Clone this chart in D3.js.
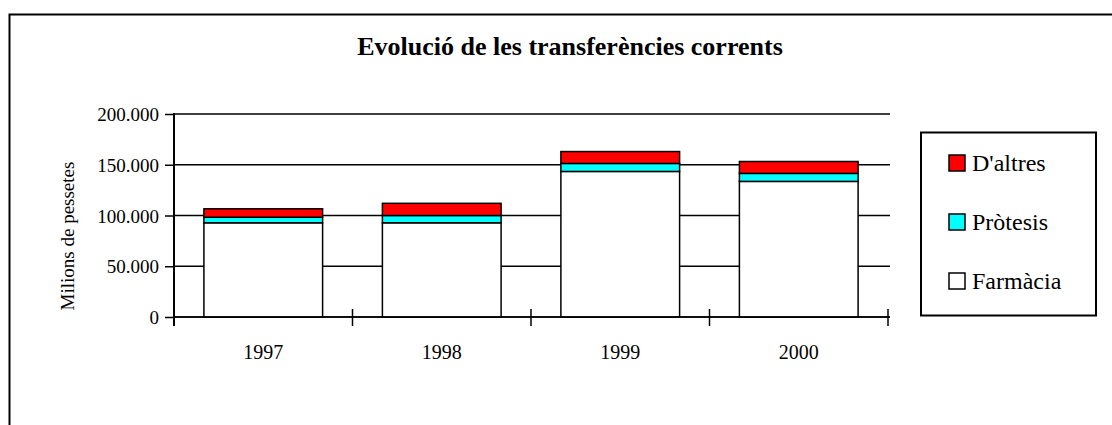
<!DOCTYPE html>
<html>
<head>
<meta charset="utf-8">
<script src="https://cdn.jsdelivr.net/npm/d3@7"></script>
<style>
  body { margin: 0; background: #fff; }
  svg text { font-family: "Liberation Serif", "Times New Roman", serif !important; fill: #000; }
</style>
</head>
<body>
<div id="chart"></div>
<script>
const years = ['1997', '1998', '1999', '2000'];
const farmacia = [92800, 92800, 143400, 133600];
const protesis = [5500, 7200, 7900, 7900];
const altres = [8300, 12000, 11700, 11700];
const yTicks = [0, 50000, 100000, 150000, 200000];
const seriesNames = ['Farmàcia', 'Pròtesis', "D'altres"];
const seriesColors = ['#ffffff', '#00ffff', '#ff0000'];

const width = 1112, height = 425;
const serif = '"Liberation Serif", "Times New Roman", serif';

const svg = d3.select('#chart').append('svg')
  .attr('width', width)
  .attr('height', height);

// outer frame (right and bottom edges fall outside the picture)
svg.append('rect')
  .attr('x', 9.5).attr('y', 14.5)
  .attr('width', 1130).attr('height', 440)
  .attr('fill', 'none').attr('stroke', '#000').attr('stroke-width', 2);

svg.append('text')
  .attr('x', 570).attr('y', 55)
  .attr('text-anchor', 'middle')
  .style('font-family', serif)
  .attr('font-size', 26)
  .attr('font-weight', 'bold')
  .text('Evolució de les transferències corrents');

const x = d3.scaleBand().domain(years).range([174, 888]).paddingInner(0.335).paddingOuter(0.1675);
const y = d3.scaleLinear().domain([0, 200000]).range([317, 114]);

// gridlines
svg.append('g').selectAll('line')
  .data(yTicks)
  .enter().append('line')
  .attr('x1', 174).attr('x2', 890)
  .attr('y1', d => y(d)).attr('y2', d => y(d))
  .attr('stroke', '#000').attr('stroke-width', 1.5);

// stacked bars
const table = years.map((yr, i) => ({year: yr, 'Farmàcia': farmacia[i], 'Pròtesis': protesis[i], "D'altres": altres[i]}));
const stack = d3.stack().keys(seriesNames)(table);

svg.append('g').selectAll('g')
  .data(stack)
  .enter().append('g')
  .attr('fill', (d, i) => seriesColors[i])
  .selectAll('rect')
  .data(d => d)
  .enter().append('rect')
  .attr('x', d => x(d.data.year))
  .attr('y', d => y(d[1]))
  .attr('width', x.bandwidth())
  .attr('height', d => y(d[0]) - y(d[1]))
  .attr('stroke', '#000')
  .attr('stroke-width', 1.5);

// y axis
const yAxis = svg.append('g')
  .attr('transform', 'translate(174,0)')
  .call(d3.axisLeft(y).tickValues(yTicks).tickSize(9).tickPadding(6)
    .tickFormat(d => d3.format(',')(d).replace(/,/g, '.')));
yAxis.attr('font-family', null);
yAxis.select('.domain').remove();
yAxis.selectAll('line').attr('stroke-width', 1.5);
yAxis.selectAll('text')
  .style('font-family', serif)
  .attr('font-size', 19)
  .attr('dy', '0.35em');
svg.append('line')
  .attr('x1', 174).attr('x2', 174).attr('y1', 113).attr('y2', 326)
  .attr('stroke', '#000').attr('stroke-width', 2);

// x axis
const bounds = years.map(d => x(d) - x.step() * x.paddingInner() / 2).concat([888]);
svg.append('g').selectAll('line')
  .data(bounds)
  .enter().append('line')
  .attr('x1', d => d).attr('x2', d => d)
  .attr('y1', 309).attr('y2', 326)
  .attr('stroke', '#000').attr('stroke-width', 1.5);
svg.append('line')
  .attr('x1', 174).attr('x2', 890).attr('y1', 317).attr('y2', 317)
  .attr('stroke', '#000').attr('stroke-width', 1.5);
svg.append('g').selectAll('text')
  .data(years)
  .enter().append('text')
  .attr('x', d => x(d) + x.bandwidth() / 2)
  .attr('y', 359)
  .attr('text-anchor', 'middle')
  .style('font-family', serif)
  .attr('font-size', 20)
  .text(d => d);

svg.append('text')
  .attr('transform', 'translate(74,236) rotate(-90)')
  .attr('text-anchor', 'middle')
  .style('font-family', serif)
  .attr('font-size', 19)
  .text('Milions de pessetes');

// legend
const legend = svg.append('g');
legend.append('rect')
  .attr('x', 921).attr('y', 132.5)
  .attr('width', 175).attr('height', 183)
  .attr('fill', '#fff').attr('stroke', '#000').attr('stroke-width', 2);
const legendOrder = [2, 1, 0];
const item = legend.selectAll('.item')
  .data(legendOrder)
  .enter().append('g')
  .attr('class', 'item')
  .attr('transform', (d, i) => 'translate(949,' + (155 + i * 59) + ')');
item.append('rect')
  .attr('width', 16).attr('height', 16)
  .attr('fill', d => seriesColors[d])
  .attr('stroke', '#000').attr('stroke-width', 1.5);
item.append('text')
  .attr('x', 23).attr('y', 16)
  .style('font-family', serif)
  .attr('font-size', 24)
  .text(d => seriesNames[d]);
</script>
</body>
</html>
